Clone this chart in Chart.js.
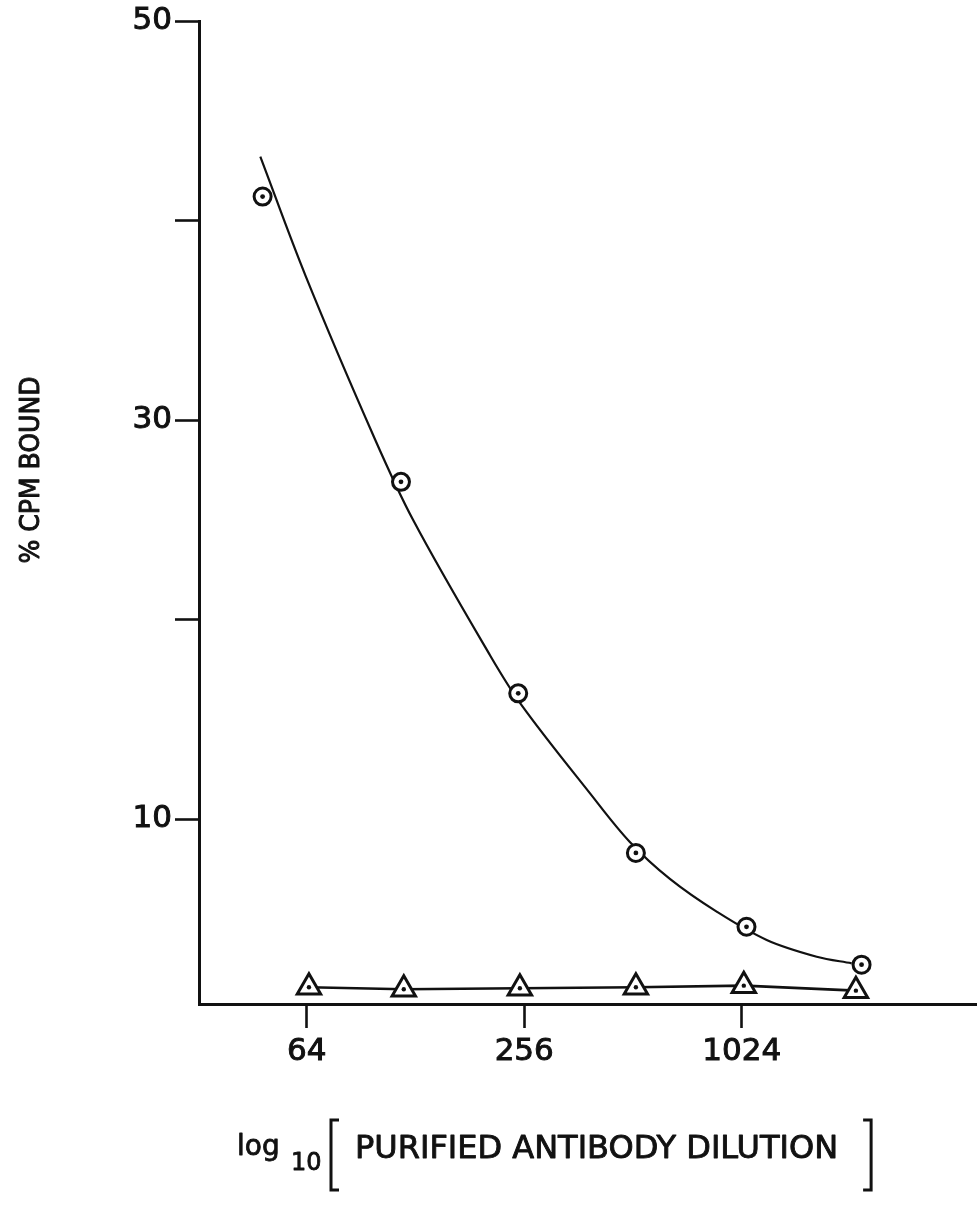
<!DOCTYPE html>
<html>
<head>
<meta charset="utf-8">
<script src="https://cdn.jsdelivr.net/npm/chart.js@4.4.1/dist/chart.umd.min.js"></script>
<style>
  html, body { margin: 0; padding: 0; background: #ffffff; }
  canvas { display: block; }
</style>
</head>
<body>
<canvas id="c" width="977" height="1210"></canvas>
<script>
// ---- data ----
const xTickValues = [64, 256, 1024];
const yTickValues = [10, 20, 30, 40, 50];
const yLabeledTicks = [10, 30, 50];

// open circles with centre dot
const circleDilution = [48.3, 116.7, 246.4, 521.7, 1056, 2199];
const circleBound    = [41.2, 26.9, 16.3, 8.3, 4.6, 2.7];

// open triangles with centre dot (joined by straight segments)
const triangleDilution = [64.9, 118.8, 249, 521.7, 1038, 2121];
const triangleBound    = [1.57, 1.47, 1.52, 1.57, 1.65, 1.40];

// hand-fitted smooth curve drawn through the circles
const curveDilution = [47.6, 63.6, 97.7, 126, 206, 252, 389, 502, 648, 873, 1201, 1652, 2065];
const curveBound    = [43.2, 37.2, 29.25, 25.0, 18.2, 15.7, 11.3, 8.85, 7.0, 5.36, 3.94, 3.1, 2.77];

const yTitle = '% CPM BOUND';
const xTitleLog = 'log';
const xTitleSub = '10';
const xTitleMain = 'PURIFIED ANTIBODY DILUTION';

const pts = (xs, ys) => xs.map((x, i) => ({ x: x, y: ys[i] }));

const INK = '#111111';
const FONT = '"DejaVu Sans", "Liberation Sans", sans-serif';

function inkText(ctx, txt, x, y, sw) {
  ctx.lineWidth = sw;
  ctx.strokeText(txt, x, y);
  ctx.fillText(txt, x, y);
}

const titlesPlugin = {
  id: 'titles',
  afterDraw(chart) {
    const ctx = chart.ctx;
    ctx.save();
    ctx.fillStyle = INK;
    ctx.strokeStyle = INK;
    ctx.lineJoin = 'round';
    // y title
    ctx.save();
    ctx.translate(32, 470);
    ctx.rotate(-Math.PI / 2);
    ctx.scale(0.93, 1);
    ctx.font = '27px ' + FONT;
    ctx.textAlign = 'center';
    ctx.textBaseline = 'middle';
    inkText(ctx, yTitle, 0, 0, 1.0);
    ctx.restore();

    // x title
    const base = 1158;
    ctx.textAlign = 'left';
    ctx.textBaseline = 'alphabetic';
    ctx.font = '28px ' + FONT;
    inkText(ctx, xTitleLog, 237, base - 3, 0.8);
    ctx.font = '24px ' + FONT;
    inkText(ctx, xTitleSub, 291, base + 12, 0.8);
    // left bracket
    ctx.lineWidth = 3;
    ctx.lineJoin = 'miter';
    ctx.beginPath();
    ctx.moveTo(339, 1120); ctx.lineTo(331, 1120); ctx.lineTo(331, 1190); ctx.lineTo(339, 1190);
    ctx.stroke();
    ctx.lineJoin = 'round';
    ctx.font = '32px ' + FONT;
    inkText(ctx, xTitleMain, 355, base, 0.9);
    const w = ctx.measureText(xTitleMain).width;
    const rx = 355 + w + 33;
    ctx.lineWidth = 3;
    ctx.lineJoin = 'miter';
    ctx.beginPath();
    ctx.moveTo(rx - 8, 1120); ctx.lineTo(rx, 1120); ctx.lineTo(rx, 1190); ctx.lineTo(rx - 8, 1190);
    ctx.stroke();
    ctx.restore();
  }
};

new Chart(document.getElementById('c'), {
  type: 'line',
  data: {
    datasets: [
      {
        label: 'circle dots', data: pts(circleDilution, circleBound), showLine: false,
        pointStyle: 'circle', pointRadius: 2.4, pointBackgroundColor: INK, pointBorderWidth: 0,
        order: 0, clip: false
      },
      {
        label: 'triangle dots', data: pts(triangleDilution, triangleBound), showLine: false,
        pointStyle: 'circle', pointRadius: 2.2, pointBackgroundColor: INK, pointBorderWidth: 0,
        order: 0, clip: false
      },
      {
        label: 'circles', data: pts(circleDilution, circleBound), showLine: false,
        pointStyle: 'circle', pointRadius: 8.5, pointBorderWidth: 3,
        pointBorderColor: INK, pointBackgroundColor: '#ffffff',
        order: 1, clip: false
      },
      {
        label: 'triangles', data: pts(triangleDilution, triangleBound), showLine: true,
        borderColor: INK, borderWidth: 2.6, tension: 0,
        pointStyle: 'triangle', pointRadius: 13.5, pointBorderWidth: 3,
        pointBorderColor: INK, pointBackgroundColor: '#ffffff',
        order: 1, clip: false
      },
      {
        label: 'curve', data: pts(curveDilution, curveBound), showLine: true,
        borderColor: INK, borderWidth: 2.2, pointRadius: 0,
        tension: 0.35, fill: false,
        order: 2, clip: false
      }
    ]
  },
  options: {
    responsive: false,
    animation: false,
    devicePixelRatio: 1,
    layout: { autoPadding: false, padding: { top: 21, right: 0, bottom: 0, left: 0 } },
    plugins: { legend: { display: false }, tooltip: { enabled: false }, title: { display: false } },
    scales: {
      x: {
        type: 'logarithmic',
        min: 32.2, max: 4590,
        afterFit: (s) => { s.height = 206; s.paddingLeft = 0; s.paddingRight = 0; },
        afterBuildTicks: (s) => { s.ticks = xTickValues.map(v => ({ value: v })); },
        border: { display: true, color: INK, width: 3 },
        grid: { drawOnChartArea: false, drawTicks: true, tickLength: 24, tickWidth: 2.6, tickColor: INK },
        ticks: {
          autoSkip: false, maxRotation: 0, minRotation: 0, padding: 5, color: INK,
          textStrokeColor: INK, textStrokeWidth: 1.0,
          font: { family: FONT, size: 31 },
          callback: (v) => String(v)
        }
      },
      y: {
        type: 'linear',
        min: 0.73, max: 50,
        afterFit: (s) => { s.width = 199; s.paddingTop = 0; s.paddingBottom = 0; },
        afterBuildTicks: (s) => { s.ticks = yTickValues.map(v => ({ value: v })); },
        border: { display: true, color: INK, width: 3 },
        grid: { drawOnChartArea: false, drawTicks: true, tickLength: 24, tickWidth: 2.6, tickColor: INK },
        ticks: {
          padding: 3, color: INK,
          textStrokeColor: INK, textStrokeWidth: 1.0,
          font: { family: FONT, size: 31 },
          callback: (v) => yLabeledTicks.includes(v) ? String(v) : ''
        }
      }
    }
  },
  plugins: [titlesPlugin]
});
</script>
</body>
</html>
